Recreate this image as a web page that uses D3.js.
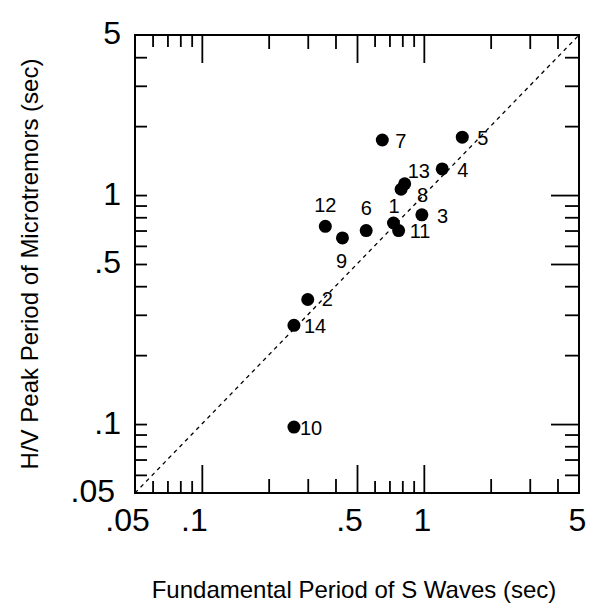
<!DOCTYPE html>
<html>
<head>
<meta charset="utf-8">
<script src="https://cdn.jsdelivr.net/npm/d3@7"></script>
<style>
  html, body { margin: 0; padding: 0; background: #fff; }
  svg { display: block; }
  text { font-family: "Liberation Sans", Arial, Helvetica, sans-serif; fill: #000; }
</style>
</head>
<body>
<svg id="chart" width="595" height="610"></svg>
<script>
// ---- data ----
const stations = ["1","2","3","4","5","6","7","8","9","10","11","12","13","14"];
const sPeriod  = [0.73, 0.30, 0.98, 1.21, 1.49, 0.55, 0.65, 0.79, 0.43, 0.26, 0.77, 0.36, 0.82, 0.26];
const hvPeriod = [0.755,0.35, 0.82, 1.30, 1.79, 0.70, 1.74, 1.06, 0.65, 0.097,0.70, 0.73, 1.12, 0.27];
const tickLabelValues = [0.05, 0.1, 0.5, 1, 5];
const tickLabelTexts  = [".05", ".1", ".5", "1", "5"];
const longTicks  = [0.1, 0.5, 1];
const midTicks   = [0.2, 0.3, 0.4, 2, 3, 4];
const shortTicks = [0.06, 0.07, 0.08, 0.09, 0.6, 0.7, 0.8, 0.9];
const xTitle = "Fundamental Period of S Waves (sec)";
const yTitle = "H/V Peak Period of Microtremors (sec)";

// label placement (style): [dx, dy, anchor]
const labelPos = {
  "1": [-5, -10, "start"], "2": [14, 7, "start"], "3": [15, 8, "start"],
  "4": [15, 8, "start"], "5": [15, 8, "start"], "6": [0, -16, "middle"],
  "7": [13, 8, "start"], "8": [16, 13, "start"], "9": [-1, 30, "middle"],
  "10": [6, 8, "start"], "11": [11, 7, "start"], "12": [0, -14, "middle"],
  "13": [3, -6, "start"], "14": [10, 8, "start"]
};

// ---- layout ----
const L = 135, R = 579, T = 35, B = 493;
const svg = d3.select("#chart");
const x = d3.scaleLog().domain([0.05, 5]).range([L, R]);
const y = d3.scaleLog().domain([0.05, 5]).range([B, T]);
const fmt = d => tickLabelTexts[tickLabelValues.indexOf(d)] || "";

function styleAxis(g) {
  g.select(".domain").remove();
  g.selectAll(".tick line").attr("stroke", "#000").attr("stroke-width", 1.8);
}

// tick groups (inward)
const tickSets = [
  {vals: longTicks, hb: 28, vl: 12, vr: 28},
  {vals: midTicks, hb: 14, vl: 12, vr: 14},
  {vals: shortTicks, hb: 12, vl: 12, vr: 14}
];
tickSets.forEach(s => {
  svg.append("g").attr("transform", `translate(0,${B})`)
    .call(d3.axisTop(x).tickValues(s.vals).tickSize(s.hb).tickFormat(""))
    .call(styleAxis);
  svg.append("g").attr("transform", `translate(0,${T})`)
    .call(d3.axisBottom(x).tickValues(s.vals).tickSize(s.hb).tickFormat(""))
    .call(styleAxis);
  svg.append("g").attr("transform", `translate(${L},0)`)
    .call(d3.axisRight(y).tickValues(s.vals).tickSize(s.vl).tickFormat(""))
    .call(styleAxis);
  svg.append("g").attr("transform", `translate(${R},0)`)
    .call(d3.axisLeft(y).tickValues(s.vals).tickSize(s.vr).tickFormat(""))
    .call(styleAxis);
});

// tick labels
const xl = svg.append("g").attr("transform", `translate(0,${B})`)
  .call(d3.axisBottom(x).tickValues(tickLabelValues).tickSize(0).tickPadding(15).tickFormat(fmt));
xl.select(".domain").remove();
xl.selectAll("text").attr("font-size", 32).attr("font-family", null)
  .attr("dx", d => fmt(d).startsWith(".") ? -8 : -2);

const yl = svg.append("g").attr("transform", `translate(${L},0)`)
  .call(d3.axisLeft(y).tickValues(tickLabelValues).tickSize(0).tickPadding(14).tickFormat(fmt));
yl.select(".domain").remove();
yl.selectAll("text").attr("font-size", 32).attr("font-family", null)
  .attr("dy", "0.28em")
  .attr("dx", d => d === 0.05 ? -6 : 0);

// frame
svg.append("rect").attr("x", L).attr("y", T).attr("width", R - L).attr("height", B - T)
  .attr("fill", "none").attr("stroke", "#000").attr("stroke-width", 2);

// 1:1 line
svg.append("line")
  .attr("x1", x(0.05)).attr("y1", y(0.05)).attr("x2", x(5)).attr("y2", y(5))
  .attr("stroke", "#000").attr("stroke-width", 1.3).attr("stroke-dasharray", "4,4");

// points
const pts = stations.map((s, i) => ({id: s, sx: sPeriod[i], hv: hvPeriod[i]}));
svg.append("g").selectAll("circle").data(pts).join("circle")
  .attr("cx", d => x(d.sx)).attr("cy", d => y(d.hv)).attr("r", 6.5).attr("fill", "#000");
svg.append("g").selectAll("text").data(pts).join("text")
  .attr("x", d => x(d.sx) + labelPos[d.id][0])
  .attr("y", d => y(d.hv) + labelPos[d.id][1])
  .attr("text-anchor", d => labelPos[d.id][2])
  .attr("font-size", 20)
  .text(d => d.id);

// titles
svg.append("text").attr("x", (L + R) / 2 - 3).attr("y", 598)
  .attr("text-anchor", "middle").attr("font-size", 24).text(xTitle);
svg.append("text").attr("transform", `translate(38,${(T + B) / 2}) rotate(-90)`)
  .attr("text-anchor", "middle").attr("font-size", 24).text(yTitle);
</script>
</body>
</html>
